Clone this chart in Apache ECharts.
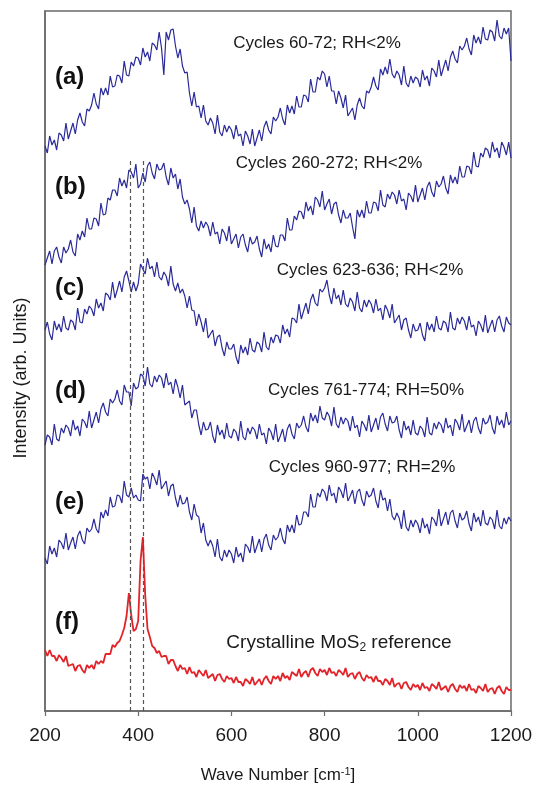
<!DOCTYPE html>
<html>
<head>
<meta charset="utf-8">
<script src="https://cdn.jsdelivr.net/npm/echarts@6/dist/echarts.min.js"></script>
<style>
  html, body { margin: 0; padding: 0; background: #ffffff; }
  #chart { width: 544px; height: 785px; }
</style>
</head>
<body>
<div id="chart"></div>
<script>
// Raman wave-number sampling grid (cm^-1)
const xStart = 200;
const xStep = 5;
const xTicks = [200, 400, 600, 800, 1000, 1200];

// Intensities (arb. units, stacked offsets as in the figure), sampled every 5 cm^-1 from 200 to 1200
const seriesA = [
  565, 558, 575, 566, 571, 561, 578, 576, 570, 588,
  572, 580, 588, 577, 591, 598, 589, 585, 602, 600,
  606, 618, 607, 602, 623, 616, 623, 616, 635, 624,
  625, 636, 635, 628, 650, 636, 635, 649, 645, 654,
  653, 646, 663, 654, 659, 650, 668, 666, 661, 679,
  663, 636, 679, 671, 681, 682, 665, 653, 662, 645,
  638, 639, 618, 605, 619, 604, 605, 593, 606, 590,
  586, 593, 588, 577, 596, 579, 575, 586, 579, 585,
  581, 572, 586, 575, 577, 565, 580, 575, 567, 582,
  565, 573, 581, 570, 584, 590, 581, 577, 594, 590,
  594, 603, 592, 586, 606, 598, 605, 597, 615, 604,
  604, 616, 615, 609, 632, 619, 619, 634, 631, 640,
  637, 624, 635, 620, 620, 607, 620, 613, 603, 616,
  595, 599, 603, 591, 606, 613, 605, 602, 620, 618,
  624, 634, 625, 621, 642, 636, 644, 637, 652, 637,
  633, 640, 636, 626, 645, 628, 624, 635, 628, 634,
  632, 624, 641, 631, 635, 625, 643, 640, 634, 651,
  635, 643, 651, 640, 654, 660, 652, 648, 665, 661,
  665, 673, 662, 656, 676, 668, 674, 667, 684, 672,
  671, 681, 679, 670, 691, 675, 672, 683, 677, 683,
  650
];
const seriesB = [
  446, 453, 460, 447, 460, 464, 454, 448, 464, 458,
  462, 471, 459, 455, 477, 471, 480, 474, 493, 482,
  482, 493, 492, 485, 508, 496, 497, 513, 511, 521,
  521, 515, 533, 525, 531, 523, 541, 539, 533, 547,
  523, 527, 538, 529, 545, 549, 538, 532, 547, 541,
  542, 548, 534, 526, 543, 533, 537, 522, 532, 514,
  507, 511, 502, 488, 504, 485, 480, 490, 483, 489,
  485, 475, 489, 477, 479, 467, 482, 478, 470, 485,
  467, 472, 477, 463, 474, 477, 466, 459, 474, 467,
  469, 475, 462, 454, 472, 462, 467, 459, 476, 465,
  464, 476, 476, 470, 493, 481, 481, 495, 491, 500,
  499, 492, 509, 500, 505, 496, 514, 511, 504, 520,
  501, 507, 512, 497, 507, 509, 496, 488, 501, 493,
  493, 498, 484, 472, 501, 494, 501, 493, 510, 498,
  498, 509, 508, 500, 521, 506, 504, 517, 512, 519,
  516, 507, 521, 510, 512, 501, 518, 515, 509, 526,
  509, 516, 523, 511, 524, 529, 519, 514, 530, 524,
  527, 535, 523, 517, 536, 528, 534, 527, 545, 534,
  534, 545, 544, 537, 559, 545, 544, 558, 554, 563,
  561, 553, 569, 559, 563, 553, 569, 564, 556, 569,
  553
];
const seriesC = [
  381, 389, 377, 371, 390, 381, 387, 379, 395, 383,
  381, 391, 389, 381, 403, 389, 388, 402, 397, 405,
  402, 395, 412, 403, 408, 400, 418, 416, 411, 429,
  413, 421, 430, 419, 434, 440, 430, 419, 429, 420,
  427, 447, 442, 437, 453, 442, 445, 434, 449, 434,
  431, 439, 435, 425, 445, 427, 420, 428, 418, 422,
  415, 403, 415, 401, 400, 385, 397, 389, 379, 393,
  373, 377, 381, 365, 374, 376, 363, 355, 369, 362,
  362, 367, 354, 347, 366, 358, 364, 356, 373, 361,
  359, 369, 367, 359, 379, 364, 361, 374, 368, 376,
  375, 368, 386, 377, 382, 374, 393, 392, 388, 407,
  392, 400, 408, 397, 411, 417, 408, 405, 422, 419,
  423, 431, 416, 407, 423, 412, 416, 406, 421, 407,
  404, 413, 409, 400, 419, 403, 399, 411, 404, 411,
  407, 398, 412, 400, 403, 391, 406, 401, 393, 407,
  388, 392, 396, 381, 391, 393, 381, 373, 387, 380,
  381, 388, 376, 370, 389, 381, 387, 379, 395, 383,
  381, 390, 388, 379, 399, 383, 381, 393, 387, 394,
  390, 381, 395, 384, 386, 375, 390, 386, 379, 396,
  378, 385, 391, 379, 391, 395, 385, 379, 394, 388,
  386
];
const seriesD = [
  266, 276, 274, 266, 287, 272, 270, 283, 278, 286,
  283, 275, 291, 281, 285, 275, 292, 289, 283, 300,
  283, 291, 299, 288, 302, 308, 299, 295, 312, 308,
  312, 321, 310, 306, 326, 319, 319, 305, 328, 322,
  324, 337, 335, 325, 344, 327, 324, 335, 329, 336,
  333, 323, 338, 326, 329, 317, 332, 324, 313, 326,
  306, 308, 310, 293, 301, 301, 286, 276, 289, 281,
  282, 289, 275, 268, 286, 276, 281, 272, 288, 275,
  273, 282, 279, 270, 290, 274, 271, 283, 277, 284,
  281, 272, 287, 276, 278, 267, 283, 279, 271, 287,
  269, 275, 282, 269, 282, 287, 277, 272, 288, 283,
  286, 295, 284, 279, 298, 290, 296, 288, 305, 293,
  291, 299, 295, 285, 304, 287, 283, 294, 287, 293,
  290, 280, 295, 283, 286, 274, 290, 286, 280, 296,
  279, 286, 293, 281, 294, 298, 287, 280, 295, 288,
  289, 295, 281, 273, 290, 281, 285, 276, 291, 278,
  276, 285, 282, 274, 294, 278, 276, 288, 282, 289,
  286, 278, 293, 283, 286, 275, 292, 288, 281, 297,
  279, 285, 291, 278, 290, 294, 283, 277, 293, 287,
  289, 296, 283, 277, 295, 286, 291, 283, 299, 286,
  290
];
const seriesE = [
  153, 147, 165, 157, 163, 154, 171, 168, 162, 178,
  161, 168, 174, 162, 175, 180, 171, 167, 183, 179,
  182, 192, 182, 178, 199, 193, 201, 195, 214, 204,
  205, 216, 215, 208, 230, 216, 214, 223, 213, 216,
  211, 210, 237, 232, 234, 222, 238, 233, 226, 241,
  222, 226, 230, 215, 225, 227, 213, 204, 216, 207,
  208, 214, 199, 191, 207, 196, 194, 178, 188, 171,
  165, 171, 165, 154, 172, 154, 150, 161, 154, 161,
  157, 148, 164, 154, 158, 149, 167, 164, 158, 175,
  158, 165, 172, 159, 172, 177, 166, 161, 176, 171,
  174, 183, 172, 167, 186, 179, 186, 178, 196, 186,
  187, 199, 199, 194, 217, 204, 204, 218, 214, 222,
  219, 210, 226, 215, 218, 208, 224, 220, 213, 228,
  210, 215, 221, 207, 219, 222, 211, 205, 220, 214,
  216, 223, 210, 203, 221, 211, 213, 200, 212, 195,
  191, 198, 193, 182, 201, 184, 180, 191, 184, 191,
  187, 178, 193, 183, 187, 177, 194, 191, 185, 202,
  185, 192, 199, 186, 198, 201, 190, 183, 198, 191,
  193, 200, 187, 180, 198, 189, 194, 185, 201, 188,
  186, 194, 191, 182, 201, 185, 182, 193, 187, 194,
  190
];
const seriesF = [
  61, 55, 61, 55, 55, 50, 56, 53, 49, 55,
  45, 46, 47, 40, 45, 46, 41, 38, 46, 43,
  46, 42, 50, 47, 50, 48, 57, 57, 57, 66,
  64, 68, 70, 76, 83, 95, 118, 96, 80, 82,
  90, 150, 174, 116, 82, 74, 65, 63, 58, 60,
  54, 55, 55, 47, 51, 51, 45, 40, 46, 42,
  43, 37, 44, 38, 39, 34, 41, 38, 35, 41,
  33, 35, 37, 30, 36, 37, 32, 29, 35, 32,
  33, 28, 34, 29, 29, 25, 32, 30, 27, 34,
  26, 29, 32, 26, 32, 35, 30, 27, 35, 32,
  35, 30, 38, 33, 35, 31, 39, 37, 35, 42,
  34, 38, 40, 34, 41, 43, 38, 35, 42, 39,
  41, 36, 43, 38, 39, 35, 41, 39, 36, 43,
  34, 37, 38, 32, 37, 39, 33, 30, 36, 33,
  34, 29, 35, 30, 30, 26, 32, 30, 26, 33,
  24, 27, 28, 22, 28, 29, 24, 21, 27, 24,
  26, 21, 28, 23, 24, 20, 27, 25, 22, 29,
  21, 23, 25, 19, 25, 27, 22, 19, 26, 23,
  25, 20, 27, 21, 22, 18, 25, 23, 20, 27,
  19, 22, 23, 17, 23, 25, 20, 17, 24, 21,
  21
];

// MoS2 reference peak positions (dashed guide lines) and their top level
const peakPositions = [383, 411];
const guideTop = 551;

const panelLetters = ['(a)', '(b)', '(c)', '(d)', '(e)', '(f)'];
const panelNotes = [
  'Cycles 60-72; RH<2%',
  'Cycles 260-272; RH<2%',
  'Cycles 623-636; RH<2%',
  'Cycles 761-774; RH=50%',
  'Cycles 960-977; RH=2%',
  'Crystalline MoS{sub|2} reference'
];

function pairs(values) {
  return values.map((v, i) => [xStart + i * xStep, v]);
}

const chart = echarts.init(document.getElementById('chart'), null, { renderer: 'canvas' });

const blue = '#2a2a9a';
const red = '#e2242a';
const FONT = 'Liberation Sans, Arial, sans-serif';

const traceList = [seriesA, seriesB, seriesC, seriesD, seriesE];
const series = traceList.map((vals) => ({
  type: 'line',
  data: pairs(vals),
  showSymbol: false,
  symbol: 'none',
  silent: true,
  animation: false,
  lineStyle: { color: blue, width: 1.2 },
  z: 3
}));
series.push({
  type: 'line',
  data: pairs(seriesF),
  showSymbol: false,
  symbol: 'none',
  silent: true,
  animation: false,
  lineStyle: { color: red, width: 1.8 },
  z: 3,
  markLine: {
    silent: true,
    symbol: ['none', 'none'],
    label: { show: false },
    animation: false,
    lineStyle: { color: '#555555', type: [4, 3], width: 1.2 },
    data: peakPositions.map((p) => [{ coord: [p, 0] }, { coord: [p, guideTop] }])
  }
});

const letterY = [77, 187, 288, 391, 502, 622];
const noteX = [317, 329, 370, 366, 362, 339];
const noteY = [43, 163, 270, 390, 467, 643];

const graphics = [];
panelLetters.forEach((t, i) => {
  graphics.push({
    type: 'text', silent: true,
    style: {
      text: t, x: 55, y: letterY[i],
      font: 'bold 24px ' + FONT, fill: '#111111',
      textAlign: 'left', textVerticalAlign: 'middle'
    }
  });
});
panelNotes.forEach((t, i) => {
  const big = i === 5;
  graphics.push({
    type: 'text', silent: true,
    style: {
      text: t, x: noteX[i], y: noteY[i],
      font: (big ? '19px ' : '17px ') + FONT, fill: '#1a1a1a',
      textAlign: 'center', textVerticalAlign: 'middle',
      rich: {
        sub: { fontSize: 12, fontFamily: FONT, fill: '#1a1a1a', verticalAlign: 'bottom', padding: [10, 0, 0, 0] }
      }
    }
  });
});
graphics.push({
  type: 'text', silent: true, rotation: Math.PI / 2, x: 21, y: 378,
  style: {
    text: 'Intensity (arb. Units)', x: 0, y: 0,
    font: '18px ' + FONT, fill: '#1a1a1a',
    textAlign: 'center', textVerticalAlign: 'middle'
  }
});

chart.setOption({
  backgroundColor: '#ffffff',
  animation: false,
  grid: {
    left: 45, right: 33, top: 11, height: 700,
    show: true, borderColor: '#6a6a6a', borderWidth: 1.5,
    containLabel: false, outerBoundsMode: 'none'
  },
  xAxis: {
    type: 'value', min: 200, max: 1200, interval: 200,
    axisLine: { show: true, lineStyle: { color: '#6a6a6a', width: 1.5 } },
    axisTick: { show: true, inside: false, length: 5, lineStyle: { color: '#6a6a6a', width: 1.2 } },
    splitLine: { show: false },
    axisLabel: {
      color: '#1a1a1a', fontSize: 19, fontFamily: FONT, margin: 15,
      formatter: (v) => (xTicks.indexOf(v) >= 0 ? String(v) : '')
    },
    name: 'Wave Number [cm{sup|-1}]',
    nameLocation: 'middle',
    nameGap: 55,
    nameTextStyle: {
      color: '#1a1a1a', fontSize: 17, fontFamily: FONT,
      rich: { sup: { fontSize: 11, fontFamily: FONT, color: '#1a1a1a', verticalAlign: 'top', padding: [0, 0, 8, 0] } }
    }
  },
  yAxis: {
    type: 'value', min: 0, max: 700,
    axisLine: { show: true, lineStyle: { color: '#6a6a6a', width: 1.5 } },
    axisTick: { show: false },
    axisLabel: { show: false },
    splitLine: { show: false }
  },
  graphic: graphics,
  series: series
});
</script>
</body>
</html>
